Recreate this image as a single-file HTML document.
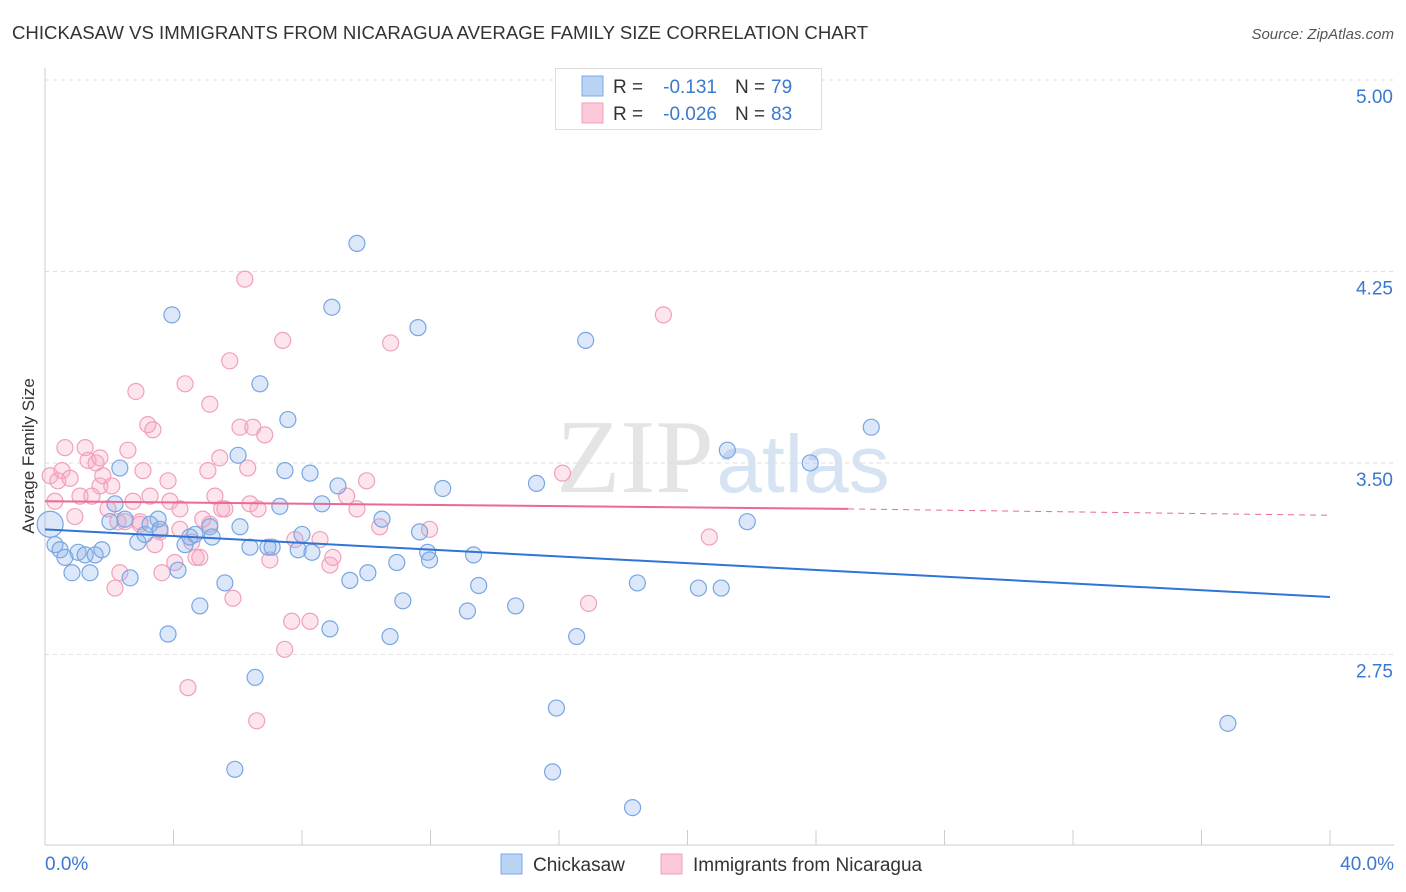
<!DOCTYPE html>
<html><head><meta charset="utf-8"><style>
body{margin:0;background:#fff;font-family:"Liberation Sans",sans-serif}
svg{display:block}
</style></head><body>
<svg id="c" width="1406" height="892" xmlns="http://www.w3.org/2000/svg">
<text x="12" y="39" font-size="18.6" fill="#333">CHICKASAW VS IMMIGRANTS FROM NICARAGUA AVERAGE FAMILY SIZE CORRELATION CHART</text>
<text x="1394" y="39" font-size="15" fill="#555" font-style="italic" text-anchor="end">Source: ZipAtlas.com</text>
<text x="635" y="492" font-size="105" fill="#e4e4e4" font-family="Liberation Serif" text-anchor="middle">ZIP</text>
<text x="803" y="492" font-size="82" fill="#d6e3f3" text-anchor="middle">atlas</text>
<text transform="translate(34,456) rotate(-90)" font-size="17" fill="#333" text-anchor="middle">Average Family Size</text>
<g id="grid"></g><g id="marks"></g>
<g>
<rect x="555.5" y="68.5" width="266" height="61" fill="#fff" stroke="#ddd"/>
<rect x="582" y="76" width="21" height="20" fill="#b9d3f5" stroke="#7eaae6"/>
<rect x="582" y="103" width="21" height="20" fill="#fbc9d9" stroke="#f1a0bb"/>
<text x="613" y="93" font-size="19" fill="#333">R =</text><text x="717" y="93" font-size="19" fill="#3b78d0" text-anchor="end">-0.131</text>
<text x="735" y="93" font-size="19" fill="#333">N =</text><text x="771" y="93" font-size="19" fill="#3b78d0">79</text>
<text x="613" y="120" font-size="19" fill="#333">R =</text><text x="717" y="120" font-size="19" fill="#3b78d0" text-anchor="end">-0.026</text>
<text x="735" y="120" font-size="19" fill="#333">N =</text><text x="771" y="120" font-size="19" fill="#3b78d0">83</text>
</g>
<g>
<rect x="501" y="854" width="21" height="20" fill="#b9d3f5" stroke="#7eaae6"/>
<text x="533" y="871" font-size="19" fill="#333">Chickasaw</text>
<rect x="661" y="854" width="21" height="20" fill="#fbc9d9" stroke="#f1a0bb"/>
<text x="693" y="871" font-size="19" fill="#333">Immigrants from Nicaragua</text>
</g>
</svg>
<script>
const yTicks=[5.00,4.25,3.50,2.75];
const xTickLabels=["0.0%","40.0%"];
const blueX=[0.16,0.31,0.47,0.62,0.84,1.03,1.25,1.40,1.56,1.77,2.02,2.18,2.33,2.49,2.65,2.89,3.11,3.27,3.52,3.58,3.95,3.83,4.14,4.36,4.51,4.67,4.82,5.13,5.20,5.60,6.01,6.07,6.38,6.54,6.69,6.94,7.07,7.31,7.47,7.56,7.88,8.00,8.25,8.31,8.62,8.87,8.93,9.12,9.49,9.71,10.05,10.49,10.74,10.95,11.14,11.61,11.66,11.91,11.97,12.38,13.15,13.34,13.50,14.65,15.30,15.92,15.80,16.55,16.83,18.29,18.44,20.34,21.05,21.24,21.86,23.82,25.72,36.82,5.91];
const blueY=[3.26,3.18,3.16,3.13,3.07,3.15,3.14,3.07,3.14,3.16,3.27,3.34,3.48,3.28,3.05,3.19,3.22,3.26,3.28,3.24,4.08,2.83,3.08,3.18,3.21,3.22,2.94,3.25,3.21,3.03,3.53,3.25,3.17,2.66,3.81,3.17,3.17,3.33,3.47,3.67,3.16,3.22,3.46,3.15,3.34,2.85,4.11,3.41,3.04,4.36,3.07,3.28,2.82,3.11,2.96,4.03,3.23,3.15,3.12,3.40,2.92,3.14,3.02,2.94,3.42,2.54,2.29,2.82,3.98,2.15,3.03,3.01,3.01,3.55,3.27,3.50,3.64,2.48,2.30];
const pinkX=[0.16,0.31,0.40,0.53,0.62,0.78,0.93,1.09,1.25,1.34,1.46,1.59,1.71,1.80,1.96,2.08,2.18,2.27,2.33,2.49,2.58,2.74,2.83,2.96,3.05,3.20,3.27,3.36,3.42,3.58,3.64,3.83,3.89,4.04,4.20,4.36,4.45,4.57,4.70,4.82,4.91,5.07,5.13,5.29,5.44,5.50,5.60,5.75,5.85,6.07,6.22,6.31,6.38,6.47,6.59,6.84,7.00,7.40,7.46,7.68,8.25,8.56,8.87,8.96,9.39,9.71,10.01,10.42,10.76,11.97,16.11,16.92,19.25,20.68,1.71,2.96,4.20,5.13,7.78,6.63];
const pinkY=[3.45,3.35,3.43,3.47,3.56,3.44,3.29,3.37,3.56,3.51,3.37,3.50,3.41,3.45,3.32,3.41,3.01,3.27,3.07,3.27,3.55,3.35,3.78,3.26,3.47,3.65,3.37,3.63,3.18,3.23,3.07,3.43,3.35,3.11,3.32,3.81,2.62,3.19,3.13,3.13,3.28,3.47,3.73,3.37,3.52,3.32,3.32,3.90,2.97,3.64,4.22,3.48,3.34,3.64,2.49,3.61,3.12,3.98,2.77,2.88,2.88,3.20,3.10,3.13,3.37,3.32,3.43,3.25,3.97,3.24,3.46,2.95,4.08,3.21,3.52,3.27,3.24,3.26,3.20,3.32];
const blueTrend=[3.24,2.975];
const pinkTrend=[3.35,3.32,3.295];
const X=v=>45+v/40*1285, Y=v=>80+(5-v)*255.3;
const NS="http://www.w3.org/2000/svg";
function mk(t,a,p){const e=document.createElementNS(NS,t);for(const k in a)e.setAttribute(k,a[k]);p.appendChild(e);return e;}
const g=document.getElementById('grid'), m=document.getElementById('marks');
yTicks.forEach(t=>{
 const l=mk('line',{x1:45,x2:1394,y1:Y(t),y2:Y(t),stroke:'#ddd','stroke-dasharray':'4,4'},g);
 
 
 const tx=mk('text',{x:1393,y:Y(t)+23,'font-size':19,fill:'#3b78d0','text-anchor':'end'},g);tx.textContent=t.toFixed(2);
 
 
});
mk('line',{x1:45,x2:45,y1:68,y2:845,stroke:'#ccc'},g);
const ax=mk('line',{x1:45,x2:1394,y1:845,y2:845,stroke:'#ccc'},g);


for(let i=0;i<=10;i++){const t=mk('line',{x1:X(i*4),x2:X(i*4),y1:830,y2:845,stroke:'#ccc'},g);
 
 }
[[xTickLabels[0],45,'start'],[xTickLabels[1],1394,'end']].forEach(([s,x,a])=>{const t=mk('text',{x:x,y:870,'font-size':19,fill:'#3b78d0','text-anchor':a},g);t.textContent=s;
 
 });
function pts(xs,ys,fill,stroke,name){xs.forEach((x,i)=>{const c=mk('circle',{cx:X(x),cy:Y(ys[i]),r:i==0&&name=='blue-point'?13:8,fill:fill,stroke:stroke,'stroke-width':1.2},m);
 
 });}
pts(pinkX,pinkY,'rgba(248,170,196,0.3)','#f0a0bc','pink-point');
pts(blueX,blueY,'rgba(140,180,235,0.3)','#78a6e2','blue-point');
const bl=mk('line',{x1:X(0),y1:Y(blueTrend[0]),x2:X(40),y2:Y(blueTrend[1]),stroke:'#2f74d6','stroke-width':2},m);


const pl=mk('line',{x1:X(0),y1:Y(pinkTrend[0]),x2:X(25),y2:Y(pinkTrend[1]),stroke:'#ea6a94','stroke-width':2},m);


const pd=mk('line',{x1:X(25),y1:Y(pinkTrend[1]),x2:X(40),y2:Y(pinkTrend[2]),stroke:'#ea6a94','stroke-width':1,'stroke-dasharray':'6,5'},m);


</script>
</body></html>
